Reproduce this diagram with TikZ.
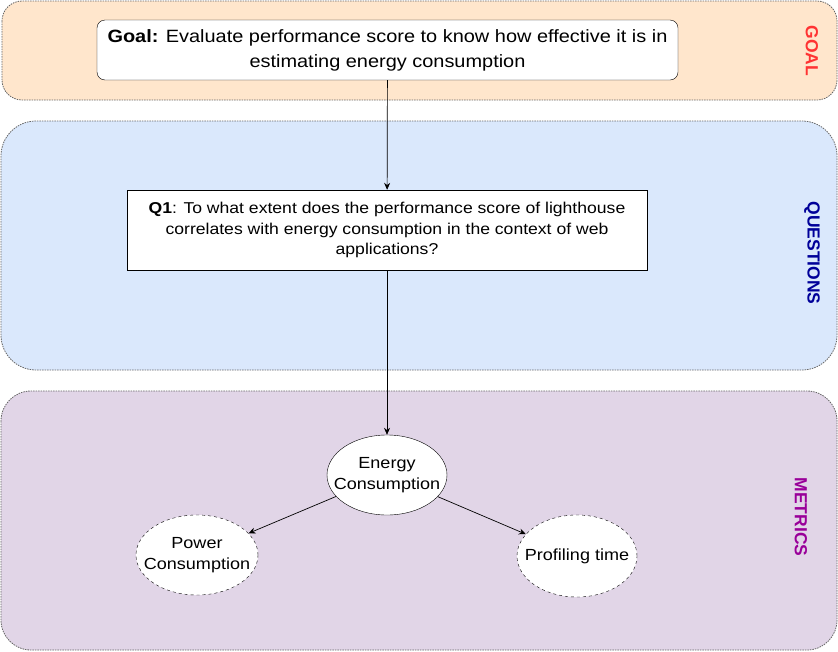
\documentclass[tikz,border=0pt]{standalone}
\usepackage{fontspec}
\setmainfont{Liberation Sans}
\newfontfamily\boxfont[FakeStretch=1.12]{Liberation Sans}
\usetikzlibrary{shapes.geometric,arrows.meta}

\definecolor{goalfill}{HTML}{FFE6CC}
\definecolor{questfill}{HTML}{DAE8FC}
\definecolor{metricfill}{HTML}{E1D5E7}
\definecolor{goalred}{HTML}{FF3333}
\definecolor{questblue}{HTML}{000099}
\definecolor{metricpurple}{HTML}{990099}

\tikzset{
  band/.style={draw=black!60, line width=0.8pt, dash pattern=on 1.5pt off 1pt},
  bandlabel/.style={font=\bfseries\fontsize{17.5}{20}\selectfont, rotate=-90},
  metric/.style={ellipse, draw, fill=white, minimum width=120, minimum height=80,
    inner xsep=-14pt, inner ysep=0pt, align=center,
    font=\boxfont\fontsize{16.1}{21}\selectfont},
  arr/.style={->, >={Stealth[length=7pt,width=6pt]}, line width=0.7pt}
}

\begin{document}
\begin{tikzpicture}[x=1pt,y=-1pt]
  \useasboundingbox (0,0) rectangle (838,651);

  % the three layers
  \draw[band, fill=goalfill, rounded corners=20] (2,1) rectangle (837,100);
  \draw[band, fill=questfill, rounded corners=35] (1,121) rectangle (837,370);
  \draw[band, fill=metricfill, rounded corners=30] (1,391) rectangle (837,650);

  \node[bandlabel, text=goalred] (goallbl) at (812,51) {GOAL};
  \node[bandlabel, text=questblue] (questlbl) at (812,253) {QUESTIONS};
  \node[bandlabel, text=metricpurple] (metriclbl) at (801,517) {METRICS};

  \begin{scope}[every node/.style={draw, fill=white, align=center, inner sep=0pt}]
    \node[rounded corners=8, minimum width=581, minimum height=60,
      font=\boxfont\fontsize{17.8}{25}\selectfont] (goal) at (387.5,50)
      {\textbf{Goal:} Evaluate performance score to know how effective it is in\\
       estimating energy consumption};
    \node[minimum width=520, minimum height=80,
      font=\boxfont\fontsize{15.7}{20.5}\selectfont] (q1) at (387,230)
      {\textbf{Q1}: To what extent does the performance score of lighthouse\\
       correlates with energy consumption in the context of web\\
       applications?};
  \end{scope}

  \node[metric] (energy) at (387,475) {Energy\\Consumption};
  \node[metric, dashed, minimum width=122] (power) at (197,555) {Power\\Consumption};
  \node[metric, dashed, minimum height=82] (profiling) at (577,556) {Profiling time};

  \draw[arr] (goal) -- (q1);
  \draw[arr] (q1) -- (energy);
  \draw[arr] (energy) -- (power);
  \draw[arr] (energy) -- (profiling);

\end{tikzpicture}
\end{document}
